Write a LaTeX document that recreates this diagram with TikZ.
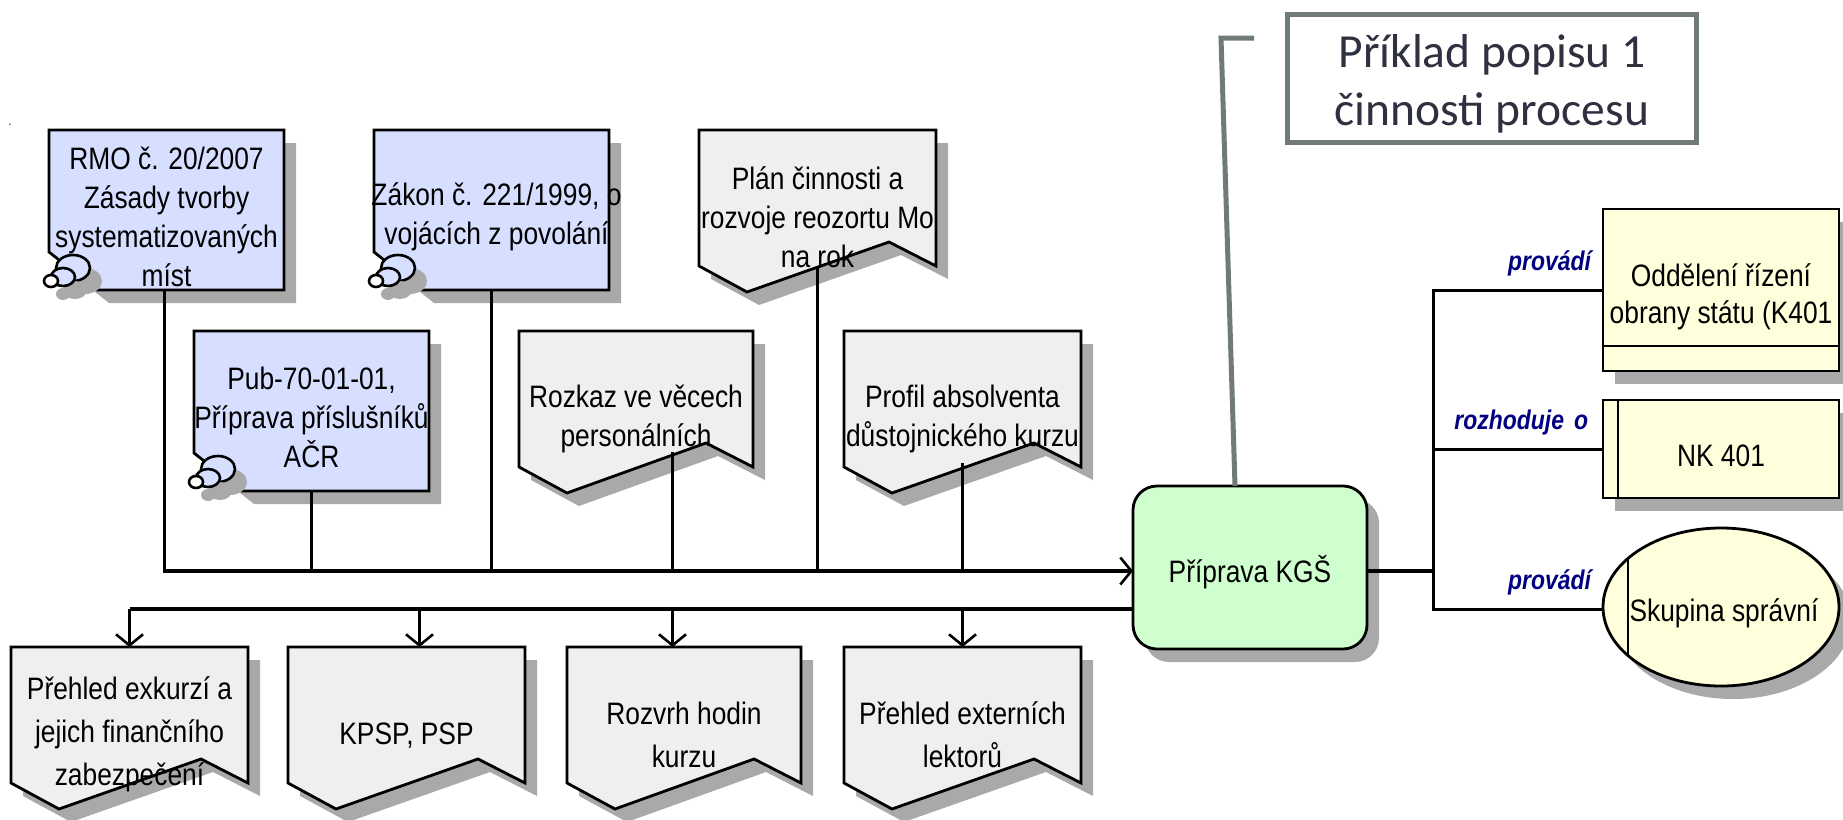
\documentclass[tikz,border=0pt]{standalone}
\usepackage{fontspec}
\setmainfont[FakeStretch=0.85]{Liberation Sans}
\newfontfamily\popfont{Carlito}
\usetikzlibrary{shapes.geometric,shadows,arrows.meta}
\definecolor{modra}{HTML}{D6DFFF}
\definecolor{seda}{HTML}{EFEFEF}
\definecolor{zelena}{HTML}{CFFFCF}
\definecolor{zluta}{HTML}{FFFFDB}
\definecolor{stinc}{HTML}{A9A9A9}
\definecolor{popc}{HTML}{6F7B74}
\definecolor{popt}{HTML}{2F3040}
\definecolor{navy}{HTML}{000080}
\begin{document}
\begin{tikzpicture}[x=1pt,y=-1pt,
     stin/.style={drop shadow={shadow xshift=12pt,shadow yshift=-13pt,fill=stinc,opacity=1}},
     obrys/.style={draw=black,line width=2.8pt,line join=miter},
     popis/.style={inner sep=0pt,outer sep=0pt,align=center,font=\fontsize{31}{39}\selectfont},
     spoj/.style={draw=black,line width=3pt},
     hlavni/.style={draw=black,line width=3.4pt},
     sipka/.style={-{Straight Barb[length=11pt,width=27pt,line width=2.6pt]}},
     role/.style={inner sep=0pt,outer sep=0pt,text=navy,font=\fontsize{27}{30}\selectfont\bfseries\itshape}
     ]
\useasboundingbox (0,0) rectangle (1843,819);
%Strut for the first line of a label
\def\prvni{\rule{0pt}{36pt}}

%Tiny mark at the left
\node[inner sep=0pt,font=\fontsize{12}{12}\selectfont] (tecka) at (10,125) {.};

%External documents, blue with the bubbles
\foreach \nm/\x/\y/\tx in {RMO/49/130/{RMO č. 20/2007\\Zásady tvorby\\systematizovaných\\míst},
      Zakon/374/130/{\hspace{10pt}Zákon č. 221/1999, o\\\hspace{10pt}vojácích z povolání},
      Pub/194/331/{Pub-70-01-01,\\Příprava příslušníků\\AČR}}
{
\path[stin,fill=modra,obrys] (\x,\y) -- ++(235,0) -- ++(0,160) -- ++(-187,0) -- ++(-48,-38) -- cycle;
\draw[stin,fill=modra,line width=2.6pt] ({\x+24},{\y+138}) ellipse [x radius=17,y radius=13];
\draw[stin,fill=modra,line width=2.6pt] ({\x+14},{\y+147}) ellipse [x radius=12,y radius=9];
\draw[stin,fill=white,line width=2.6pt] ({\x+2},{\y+151}) ellipse [x radius=7,y radius=6];
\node[popis,minimum width=235pt,minimum height=160pt] (\nm) at ({\x+117.5},{\y+80}) {\prvni\tx};
}

%Documents with the wavy bottom
\foreach \nm/\x/\y/\w/\tx in {Plan/699/130/237/{Plán činnosti a\\rozvoje reozortu Mo\\na rok},
      Rozkaz/519/331/234/{Rozkaz ve věcech\\personálních},
      Profil/844/331/237/{Profil absolventa\\důstojnického kurzu},
      Prehled/11/647/237/{Přehled exkurzí a\\[4pt]jejich finančního\\[4pt]zabezpečení},
      KPSP/288/647/237/{KPSP, PSP},
      Rozvrh/567/647/234/{Rozvrh hodin\\[4pt]kurzu},
      Lektori/844/647/237/{Přehled externích\\[4pt]lektorů}}
{
\path[stin,fill=seda,obrys] (\x,\y) -- ++(\w,0) -- ++(0,136) -- ++(-47,-24) -- ++({-\w+95},50) -- ++(-48,-26) -- cycle;
\node[popis,minimum width=\w pt,minimum height=162pt] (\nm) at ({\x+\w/2},{\y+81}) {\prvni\tx};
}

%The process
\node[popis,stin,fill=zelena,obrys,rounded corners=24pt,minimum width=234pt,minimum height=163pt] (KGS) at (1250,567.5) {\prvni Příprava KGŠ};

%Roles on the right
\node[popis,stin,fill=zluta,obrys,minimum width=236pt,minimum height=162pt] (Odd) at (1721,290) {\prvni Oddělení řízení\\[-2pt]obrany státu (K401};
\node[popis,stin,fill=zluta,obrys,minimum width=236pt,minimum height=98pt] (NK) at (1721,449) {\prvni NK 401};
\node[stin,fill=zluta,obrys,ellipse,inner sep=0pt,outer sep=0pt,minimum width=236pt,minimum height=158pt] (Skup) at (1721,607) {};
\draw[obrys] (Odd.west |- 0,346) -- (Odd.east |- 0,346);
\draw[obrys] (1618,400) -- (1618,498);
\draw[obrys] (1628,558) -- (1628,656);
\node[popis] (SkupT) at ([xshift=3pt]Skup.center) {\prvni Skupina správní};

\node[role,anchor=east] (rola) at (1591,263) {provádí};
\node[role,anchor=east] (rolb) at (1588,423) {rozhoduje\hspace{10pt}o};
\node[role,anchor=east] (rolc) at (1591,582) {provádí};

%Example note
\node[draw=popc,line width=5pt,fill=white,inner sep=0pt,outer sep=0pt,minimum width=409pt,minimum height=128pt,align=center,text=popt,font=\popfont\fontsize{47.5}{58}\selectfont] (Pop) at (1492,78) {\rule{0pt}{44pt}Příklad popisu 1\\činnosti procesu};
\coordinate (PopA) at (1254,38);
\coordinate (PopB) at (1221,38);
\draw[draw=popc,line width=5pt] (PopA) -- (PopB) -- ([xshift=-15pt]KGS.north);

%Points on the lines
\coordinate (vstup) at (KGS.west |- 0,571);
\coordinate (vystup) at (KGS.west |- 0,609);
\coordinate (uzel) at (1433.5,571);
\coordinate (RMOV) at ([xshift=-2pt]RMO.south);
\coordinate (PlanV) at ([yshift=26pt]Plan.south);
\coordinate (RozkazV) at ([xshift=36.5pt,yshift=41pt]Rozkaz.south);
\coordinate (ProfilV) at ([yshift=30pt]Profil.south);
\coordinate (KPSPV) at ([xshift=13pt]KPSP.north);
\coordinate (RozvrhV) at ([xshift=-11.5pt]Rozvrh.north);

\draw[hlavni,sipka] (RMOV) |- (vstup);
\draw[spoj] (Zakon.south) -- (Zakon.south |- vstup);
\draw[spoj] (Pub.south) -- (Pub.south |- vstup);
\draw[spoj] (PlanV) -- (PlanV |- vstup);
\draw[spoj] (RozkazV) -- (RozkazV |- vstup);
\draw[spoj] (ProfilV) -- (ProfilV |- vstup);

\draw[hlavni] (vystup) -- (vystup -| Prehled.north);
\draw[spoj,sipka] (vystup -| Prehled.north) -- (Prehled.north);
\draw[spoj,sipka] (KPSPV |- vystup) -- (KPSPV);
\draw[spoj,sipka] (RozvrhV |- vystup) -- (RozvrhV);
\draw[spoj,sipka] (vystup -| Lektori.north) -- (Lektori.north);

\draw[hlavni] (KGS.east |- uzel) -- (uzel);
\draw[spoj] (Odd.west) -| (uzel);
\draw[spoj] (NK.west) -- (NK.west -| uzel);
\draw[spoj] (uzel) |- (Skup.west |- vystup);
\end{tikzpicture}
\end{document}
